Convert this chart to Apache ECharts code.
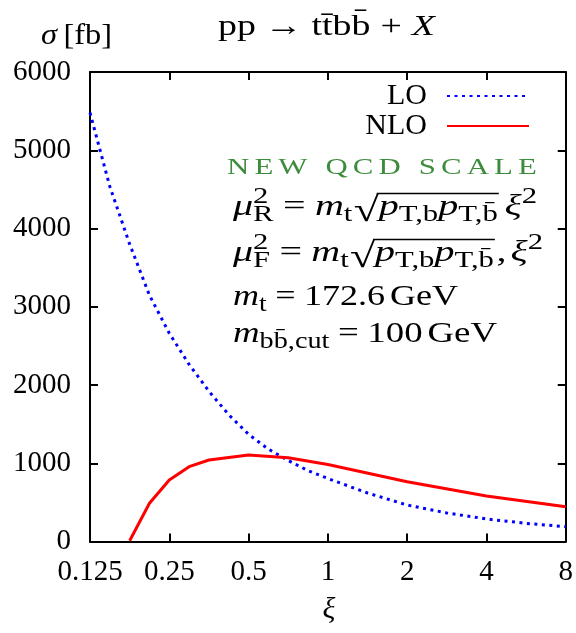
<!DOCTYPE html>
<html>
<head>
<meta charset="utf-8">
<script src="https://cdn.jsdelivr.net/npm/echarts@6/dist/echarts.min.js"></script>
<style>
  html, body { margin: 0; padding: 0; background: #fff; }
  #main { width: 576px; height: 633px; }
</style>
</head>
<body>
<div id="main"></div>
<script>
// 数据: 横轴 xi, LO 与 NLO 截面 (fb)
const xiTicks = [0.125, 0.25, 0.5, 1, 2, 4, 8]
const loXi = [0.125, 0.1487, 0.1768, 0.2102, 0.25, 0.2973, 0.3536, 0.4204, 0.5, 0.5946, 0.7071, 0.8409, 1, 1.414, 2, 2.828, 4, 5.657, 8]
const loSigma = [5480, 4535, 3800, 3147, 2661, 2263, 1920, 1620, 1370, 1180, 1035, 905, 805, 620, 466, 365, 288, 232, 189]
const nloXi = [0.1768, 0.2102, 0.25, 0.2973, 0.3536, 0.5, 0.7071, 1, 2, 4, 8]
const nloSigma = [10, 488, 786, 956, 1042, 1105, 1071, 985, 764, 581, 445]

const FONT = '"Liberation Serif", "DejaVu Serif", serif'
const ctx = document.createElement('canvas').getContext('2d')

function fontOf(p) {
    return (p.i ? 'italic ' : '') + p.s + 'px ' + FONT
}
//把一行公式拆成小块, 逐块测宽排开, 再整体横向拉伸到目标宽度
function mathRow(x0, base, parts, color, target) {
    //先量一遍自然宽度
    let x = 0, prevX = 0, prevW = 0
    parts.forEach(p => {
        ctx.font = fontOf(p)
        p.w = ctx.measureText(p.t).width
        x += (p.pre || 0)
        if (p.stack) {
            p.px = prevX
            x = prevX + Math.max(prevW, p.w)
        } else {
            p.px = x
            x += p.w
            prevX = p.px
            prevW = p.w
        }
        x += (p.gap || 0)
    })
    let sx = target ? target / x : 1
    let els = [], pos = {}
    parts.forEach(p => {
        let px = x0 + p.px * sx
        if (p.id) pos[p.id] = { x0: px, x1: px + p.w * sx }
        els.push({
            type: 'text',
            x: px,
            y: base + (p.dy || 0) - 0.34 * p.s,
            scaleX: sx,
            style: { text: p.t, font: fontOf(p), fill: color || '#000', verticalAlign: 'middle' }
        })
    })
    return { els, pos }
}

const M = 30, S = 23
let graphics = []

//标题
graphics.push(...mathRow(218, 37, [
    { t: 'pp', s: M, gap: 7 }, { t: '→', s: M, gap: 7 }, { t: 't', s: M }, { t: 't\u0304', s: M },
    { t: 'b', s: M }, { t: 'b\u0304', s: M, gap: 8 }, { t: '+', s: M, gap: 8 }, { t: 'X', s: M, i: 1 }
], '#000', 217).els)
graphics.push(...mathRow(41, 46, [{ t: 'σ', s: M, i: 1, gap: 6 }, { t: '[fb]', s: M }], '#000', 71).els)

//NEW QCD SCALE 字母间距拉开
let letters = 'NEW QCD SCALE'.split('').map(c => ({ t: c, s: 24, gap: 4 }))
graphics.push(...mathRow(227, 176, letters, '#3d8c3d', 315).els)

function muRow(base, sub, comma, target) {
    let parts = [
        { t: 'μ', s: M, i: 1 },
        { t: '2', s: S, dy: -12 },
        { t: sub, s: S, dy: 6, stack: 1, gap: 7 },
        { t: '=', s: M, gap: 7 },
        { t: 'm', s: M, i: 1 },
        { t: 't', s: S, dy: 6, gap: 1 },
        { t: '√', s: 34, dy: 7, id: 'rad' },
        { t: 'p', s: M, i: 1 },
        { t: 'T,b', s: S, dy: 6 },
        { t: 'p', s: M, i: 1 },
        { t: 'T,b\u0304', s: S, dy: 6, id: 'r1', gap: 2 }
    ]
    if (comma) parts.push({ t: ',', s: M, gap: 3 })
    parts.push({ t: 'ξ', s: M, i: 1, pre: comma ? 0 : 3 }, { t: '2', s: S, dy: -12 })
    let r = mathRow(233, base, parts, '#000', target)
    r.els.push({
        type: 'line',
        shape: { x1: r.pos.rad.x1 - 2, y1: base - 23.5, x2: r.pos.r1.x1 + 1, y2: base - 23.5 },
        style: { stroke: '#000', lineWidth: 1.4 }
    })
    return r.els
}
graphics.push(...muRow(217, 'R', false, 304))
graphics.push(...muRow(263, 'F', true, 310))
graphics.push(...mathRow(233, 307, [
    { t: 'm', s: M, i: 1 }, { t: 't', s: S, dy: 6, gap: 7 }, { t: '=', s: M, gap: 7 },
    { t: '172.6', s: M, gap: 4 }, { t: 'GeV', s: M }
], '#000', 225).els)
graphics.push(...mathRow(233, 344, [
    { t: 'm', s: M, i: 1 }, { t: 'bb\u0304,cut', s: S, dy: 6, gap: 7 }, { t: '=', s: M, gap: 7 },
    { t: '100', s: M, gap: 4 }, { t: 'GeV', s: M }
], '#000', 264).els)
//横轴名
graphics.push({
    type: 'text', x: 329, y: 610,
    style: { text: 'ξ', font: 'italic 30px ' + FONT, fill: '#000', align: 'center', verticalAlign: 'middle' }
})

function fmtXi(v) {
    return String(+(+v).toPrecision(6))
}

let axisCommon = {
    axisLine: { show: true, onZero: false, lineStyle: { color: '#000', width: 2 } },
    axisTick: { show: true, inside: true, length: 8, lineStyle: { color: '#000', width: 2 } },
    splitLine: { show: false }
}

let myChart = echarts.init(document.getElementById('main'))
let option = {
    animation: false,
    backgroundColor: '#fff',
    grid: { left: 90, right: 8, top: 72, bottom: 91.5 },
    legend: {
        orient: 'vertical',
        right: 46,
        top: 81,
        padding: 0,
        itemGap: 0,
        itemWidth: 82,
        itemHeight: 12,
        align: 'right',
        itemStyle: { opacity: 0 },
        textStyle: { fontFamily: FONT, fontSize: 30, lineHeight: 30, color: '#000', width: 95, align: 'right', padding: [0, 15, 0, 0] },
        data: ['LO', 'NLO']
    },
    xAxis: [
        Object.assign({
            type: 'log', logBase: 2, min: 0.125, max: 8, position: 'bottom',
            axisLabel: { margin: 16, fontFamily: FONT, fontSize: 29, color: '#000', formatter: fmtXi }
        }, axisCommon),
        Object.assign({
            type: 'log', logBase: 2, min: 0.125, max: 8, position: 'top',
            axisLabel: { show: false }
        }, axisCommon)
    ],
    yAxis: [
        Object.assign({
            type: 'value', min: 0, max: 6000, interval: 1000, position: 'left',
            axisLabel: { margin: 19, fontFamily: FONT, fontSize: 29, color: '#000', formatter: v => String(v) }
        }, axisCommon),
        Object.assign({
            type: 'value', min: 0, max: 6000, interval: 1000, position: 'right',
            axisLabel: { show: false }
        }, axisCommon)
    ],
    series: [
        {
            name: 'LO',
            type: 'line',
            symbol: 'none',
            lineStyle: { color: '#0000ff', width: 3, type: [3, 4.5] },
            itemStyle: { color: '#0000ff' },
            data: loXi.map((x, i) => [x, loSigma[i]])
        },
        {
            name: 'NLO',
            type: 'line',
            symbol: 'none',
            lineStyle: { color: '#ff0000', width: 3 },
            itemStyle: { color: '#ff0000' },
            data: nloXi.map((x, i) => [x, nloSigma[i]])
        }
    ],
    graphic: graphics
}
myChart.setOption(option)
</script>
</body>
</html>
